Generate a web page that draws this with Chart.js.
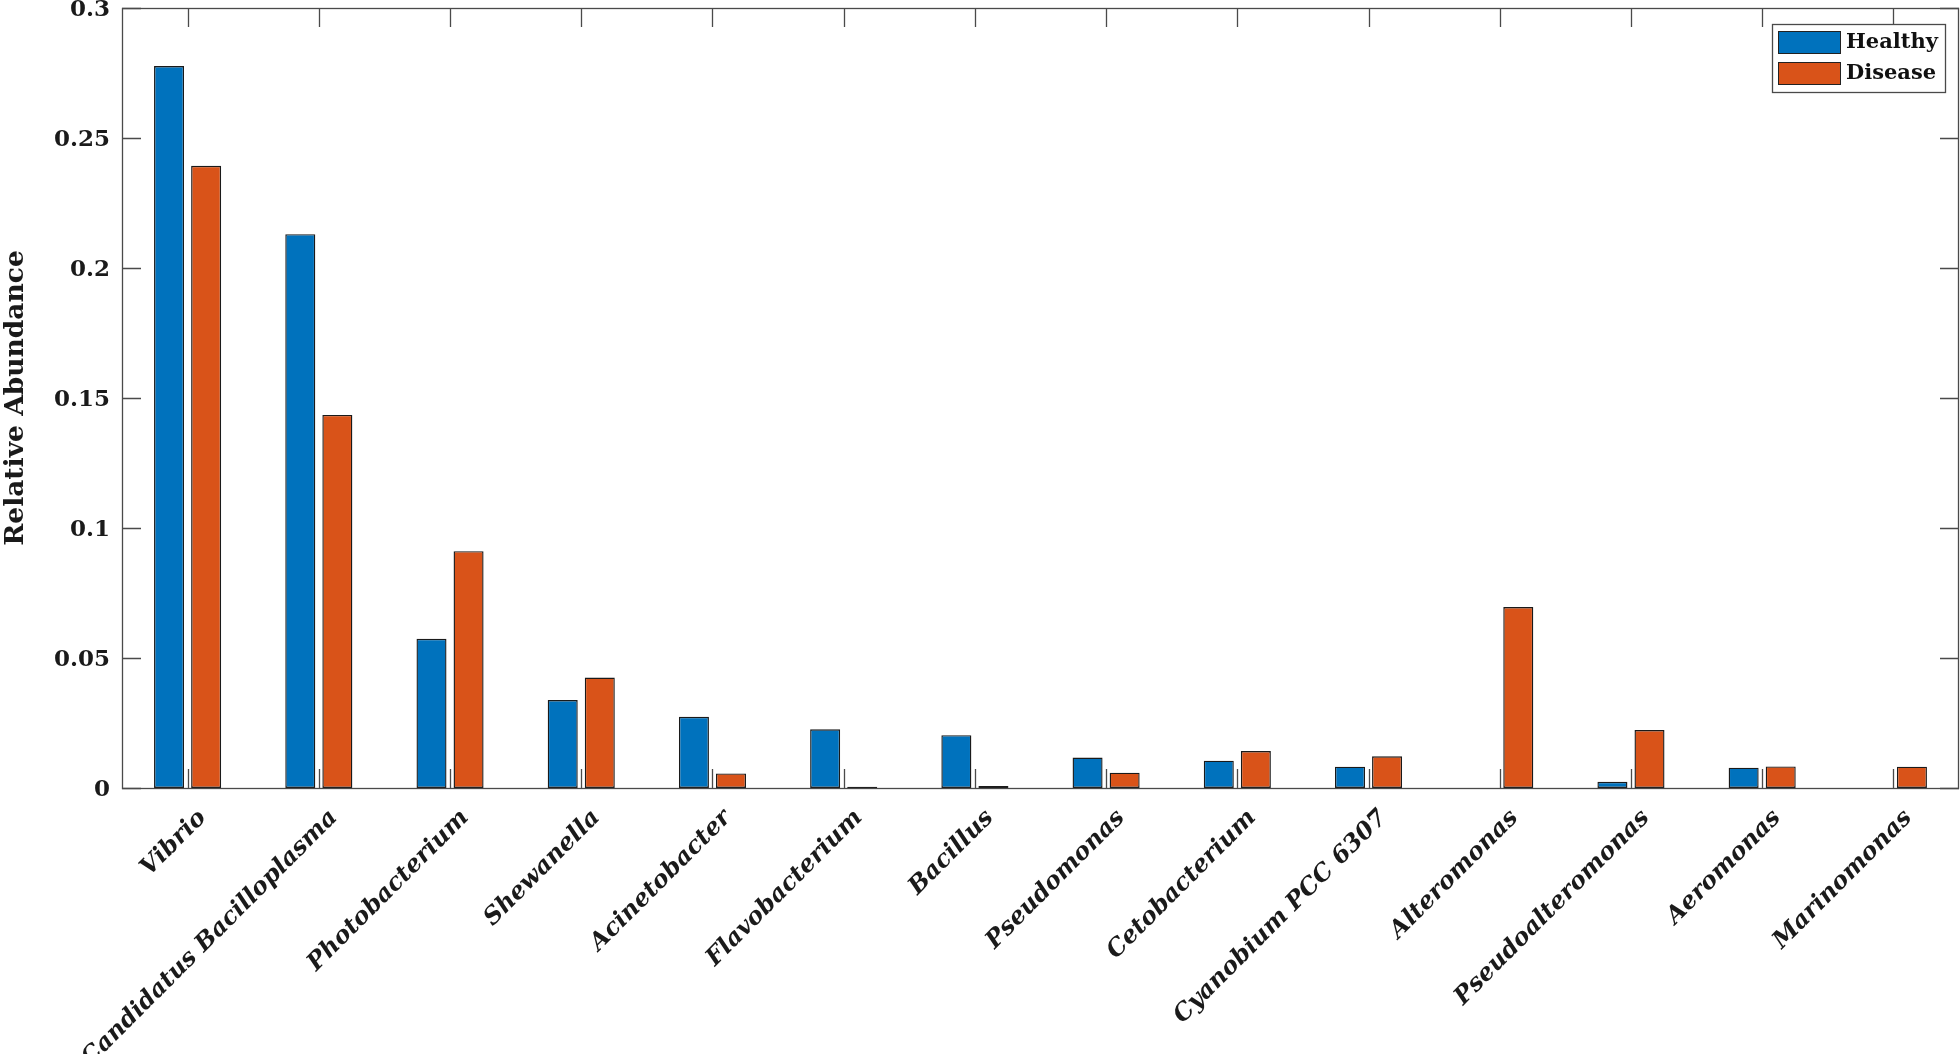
<!DOCTYPE html>
<html>
<head>
<meta charset="utf-8">
<script src="https://cdn.jsdelivr.net/npm/chart.js@4.4.0/dist/chart.umd.min.js"></script>
<style>
  html, body { margin: 0; padding: 0; background: #ffffff; }
  #wrap { width: 1960px; height: 1054px; }
</style>
</head>
<body>
<div id="wrap"><canvas id="c" width="1960" height="1054"></canvas></div>
<script>
const categories = ['Vibrio', 'Candidatus Bacilloplasma', 'Photobacterium', 'Shewanella', 'Acinetobacter',
  'Flavobacterium', 'Bacillus', 'Pseudomonas', 'Cetobacterium', 'Cyanobium PCC 6307',
  'Alteromonas', 'Pseudoalteromonas', 'Aeromonas', 'Marinomonas'];
const healthy = [0.2777, 0.2130, 0.0574, 0.0338, 0.0274, 0.0226, 0.0203, 0.0117, 0.0105, 0.0082, 0, 0.0024, 0.0078, 0];
const disease = [0.2393, 0.1435, 0.0911, 0.0425, 0.0056, 0.0005, 0.0008, 0.0059, 0.0142, 0.0122, 0.0696, 0.0223, 0.0083, 0.0082];
const seriesNames = ['Healthy', 'Disease'];
const yTickLabels = ['0', '0.05', '0.1', '0.15', '0.2', '0.25', '0.3'];
const yAxisTitle = 'Relative Abundance';

const SERIF = '"DejaVu Serif", "Liberation Serif", serif';
const AXIS_COLOR = '#4a4a4a';

const framePlugin = {
  id: 'frame',
  afterDatasetsDraw(chart) {
    const ctx = chart.ctx;
    const a = chart.chartArea;
    const xs = chart.scales.x, ys = chart.scales.y;
    const tl = 19;
    ctx.save();
    ctx.strokeStyle = AXIS_COLOR;
    ctx.lineWidth = 1.3;
    ctx.beginPath();
    ys.ticks.forEach(t => {
      const y = Math.round(ys.getPixelForValue(t.value)) + 0.5;
      ctx.moveTo(a.left, y); ctx.lineTo(a.left + tl, y);
      ctx.moveTo(a.right, y); ctx.lineTo(a.right - tl, y);
    });
    categories.forEach((c, i) => {
      const x = Math.round(xs.getPixelForValue(i)) + 0.5;
      ctx.moveTo(x, a.top); ctx.lineTo(x, a.top + tl);
      ctx.moveTo(x, a.bottom); ctx.lineTo(x, a.bottom - tl);
    });
    ctx.stroke();
    ctx.strokeRect(Math.round(a.left) + 0.5, Math.round(a.top) + 0.5,
                   Math.round(a.right - a.left) - 1, Math.round(a.bottom - a.top));
    ctx.restore();
  },
  afterDraw(chart) {
    const ctx = chart.ctx;
    const a = chart.chartArea;
    const bw = 173, bh = 68;
    const bx = a.right - 14 - bw, by = a.top + 16;
    ctx.save();
    ctx.fillStyle = '#ffffff';
    ctx.fillRect(bx, by, bw, bh);
    ctx.strokeStyle = AXIS_COLOR;
    ctx.lineWidth = 1.3;
    ctx.strokeRect(bx + 0.5, by + 0.5, bw, bh);
    ctx.font = 'bold 21px ' + SERIF;
    ctx.textBaseline = 'middle';
    chart.data.datasets.forEach((ds, i) => {
      const sy = by + 7 + i * 31;
      ctx.fillStyle = ds.backgroundColor;
      ctx.fillRect(bx + 6, sy, 62, 22);
      ctx.strokeStyle = '#222222';
      ctx.lineWidth = 1;
      ctx.strokeRect(bx + 6.5, sy + 0.5, 62, 22);
      ctx.fillStyle = '#111111';
      ctx.fillText(ds.label, bx + 74, sy + 12);
    });
    ctx.restore();
  }
};

new Chart(document.getElementById('c'), {
  type: 'bar',
  data: {
    labels: categories,
    datasets: [
      { label: seriesNames[0], data: healthy, backgroundColor: '#0072BD', borderColor: '#1a1a1a', borderWidth: 1.4, borderSkipped: false },
      { label: seriesNames[1], data: disease, backgroundColor: '#D95319', borderColor: '#1a1a1a', borderWidth: 1.4, borderSkipped: false }
    ]
  },
  options: {
    responsive: false,
    animation: false,
    devicePixelRatio: 1,
    categoryPercentage: 0.565,
    barPercentage: 0.81,
    layout: { padding: { top: 8, right: 1, left: 0, bottom: 0 } },
    plugins: { legend: { display: false }, tooltip: { enabled: false } },
    scales: {
      x: {
        grid: { display: false },
        border: { display: false },
        ticks: {
          color: '#1a1a1a',
          font: { family: SERIF, size: 24, style: 'italic', weight: 'bold' },
          maxRotation: 45, minRotation: 45,
          autoSkip: false,
          padding: 8,
          labelOffset: 15
        },
        afterFit(scale) { scale.height = 266; scale.paddingLeft = 0; scale.paddingRight = 0; }
      },
      y: {
        min: 0, max: 0.3,
        grid: { display: false, drawTicks: false },
        border: { display: false },
        ticks: {
          stepSize: 0.05,
          color: '#1a1a1a',
          padding: 12,
          labelOffset: 2,
          font: { family: SERIF, size: 23, weight: 'bold' },
          callback: (v, i) => yTickLabels[i]
        },
        title: {
          display: true, text: yAxisTitle, color: '#1a1a1a',
          font: { family: SERIF, size: 26.5, weight: 'bold' },
          padding: { top: 0, bottom: 0 }
        },
        afterFit(scale) { scale.width = 122; scale.paddingTop = 0; scale.paddingBottom = 0; }
      }
    }
  },
  plugins: [framePlugin]
});
</script>
</body>
</html>
